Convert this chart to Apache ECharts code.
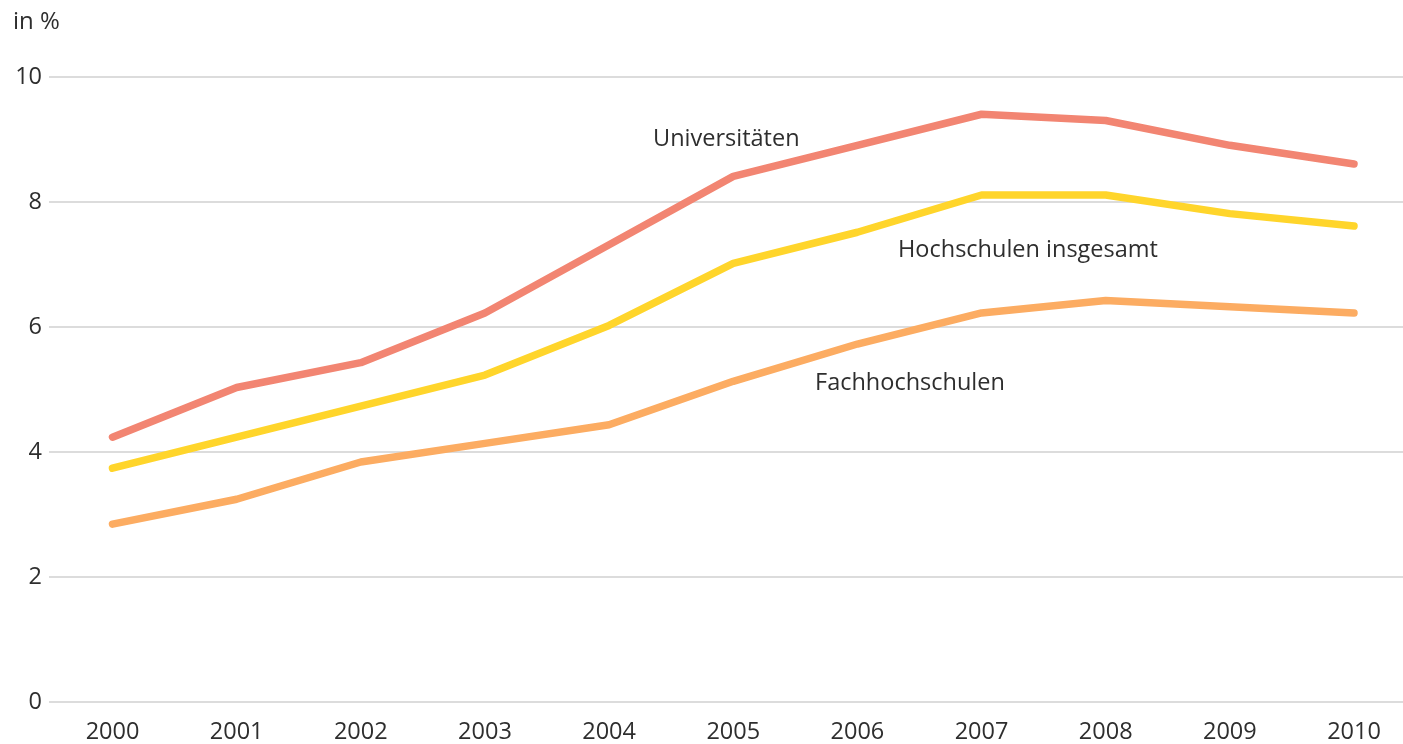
<!DOCTYPE html>
<html>
<head>
<meta charset="utf-8">
<script src="https://cdn.jsdelivr.net/npm/echarts@6/dist/echarts.min.js"></script>
<style>
html,body{margin:0;padding:0;background:#fff;}
#chart{width:1403px;height:744px;}
</style>
</head>
<body>
<div id="chart"></div>
<script>
const years = ['2000','2001','2002','2003','2004','2005','2006','2007','2008','2009','2010'];
const universitaeten = [4.2, 5.0, 5.4, 6.2, 7.3, 8.4, 8.9, 9.4, 9.3, 8.9, 8.6];
const hochschulenInsgesamt = [3.7, 4.2, 4.7, 5.2, 6.0, 7.0, 7.5, 8.1, 8.1, 7.8, 7.6];
const fachhochschulen = [2.8, 3.2, 3.8, 4.1, 4.4, 5.1, 5.7, 6.2, 6.4, 6.3, 6.2];
const yTicks = [0, 2, 4, 6, 8, 10];
const seriesNames = ['Universitäten', 'Hochschulen insgesamt', 'Fachhochschulen'];
const unitLabel = 'in %';

const FONT = '"Open Sans", "Noto Sans", sans-serif';
const TXT = '#2e2e2e';

const chart = echarts.init(document.getElementById('chart'), null, {renderer: 'canvas'});

function lineSeries(name, data, color) {
  return {
    name: name,
    type: 'line',
    xAxisIndex: 1,
    yAxisIndex: 1,
    data: data,
    symbol: 'none',
    smooth: false,
    lineStyle: {color: color, width: 7.5, cap: 'round', join: 'round'},
    silent: true,
    z: 3
  };
}

chart.setOption({
  animation: false,
  backgroundColor: '#ffffff',
  grid: [
    {left: 49, right: 0, top: 77, bottom: 42, containLabel: false},
    {left: 112.5, right: 49, top: 77, bottom: 42, containLabel: false}
  ],
  xAxis: [
    {gridIndex: 0, type: 'category', data: years, show: false},
    {
      gridIndex: 1, type: 'category', data: years, boundaryGap: false,
      axisLine: {show: false}, axisTick: {show: false}, splitLine: {show: false},
      axisLabel: {color: TXT, fontFamily: FONT, fontSize: 23.5, margin: 22}
    }
  ],
  yAxis: [
    {
      gridIndex: 0, type: 'value', min: yTicks[0], max: yTicks[yTicks.length - 1], interval: 2,
      axisLine: {show: false}, axisTick: {show: false},
      axisLabel: {color: TXT, fontFamily: FONT, fontSize: 23.5, margin: 7},
      splitLine: {show: true, lineStyle: {color: '#dcdcdc', width: 2}}
    },
    {
      gridIndex: 1, type: 'value', min: yTicks[0], max: yTicks[yTicks.length - 1], interval: 2,
      show: false, splitLine: {show: false}
    }
  ],
  series: [
    lineSeries(seriesNames[0], universitaeten, '#f28572'),
    lineSeries(seriesNames[1], hochschulenInsgesamt, '#ffd52b'),
    lineSeries(seriesNames[2], fachhochschulen, '#fcac62')
  ],
  graphic: [
    {type: 'text', left: 13, top: 10, style: {text: unitLabel, fill: TXT, font: '24px ' + FONT}},
    {type: 'text', left: 653, top: 127, style: {text: seriesNames[0], fill: TXT, font: '23.5px ' + FONT}},
    {type: 'text', left: 898, top: 238, style: {text: seriesNames[1], fill: TXT, font: '23.5px ' + FONT}},
    {type: 'text', left: 815, top: 371, style: {text: seriesNames[2], fill: TXT, font: '23.5px ' + FONT}}
  ]
});
</script>
</body>
</html>
